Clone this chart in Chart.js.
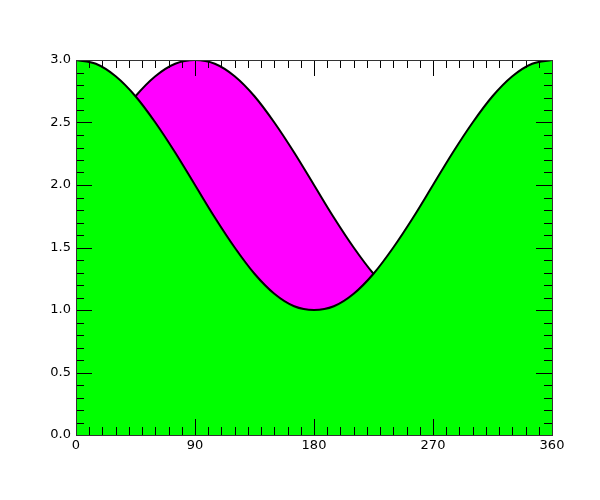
<!DOCTYPE html>
<html>
<head>
<meta charset="utf-8">
<script src="https://cdn.jsdelivr.net/npm/chart.js@4"></script>
<style>
  body { margin: 0; background: #fff; }
</style>
</head>
<body>
<canvas id="grafico" width="600" height="500"></canvas>
<script>
// angulos (graus) e valores
const angulos = [0, 15, 30, 45, 60, 75, 90, 105, 120, 135, 150, 165, 180,
                 195, 210, 225, 240, 255, 270, 285, 300, 315, 330, 345, 360];
const curvaVerde = [3.00, 2.97, 2.87, 2.71, 2.50, 2.26, 2.00, 1.74, 1.50, 1.29, 1.13, 1.03, 1.00,
                    1.03, 1.13, 1.29, 1.50, 1.74, 2.00, 2.26, 2.50, 2.71, 2.87, 2.97, 3.00];
const curvaMagenta = [2.00, 2.26, 2.50, 2.71, 2.87, 2.97, 3.00, 2.97, 2.87, 2.71, 2.50, 2.26, 2.00,
                      1.74, 1.50, 1.29, 1.13, 1.03, 1.00, 1.03, 1.13, 1.29, 1.50, 1.74, 2.00];
const xTicks = [0, 90, 180, 270, 360];
const yTicks = [0.0, 0.5, 1.0, 1.5, 2.0, 2.5, 3.0];

function pontos(ys) {
    return angulos.map((a, i) => ({ x: a, y: ys[i] }));
}

// ticks para dentro nos quatro lados + moldura
const molduraTicks = {
    id: 'molduraTicks',
    afterDraw(chart) {
        const ctx = chart.ctx;
        const a = chart.chartArea;
        const sx = chart.scales.x;
        const sy = chart.scales.y;
        ctx.save();
        ctx.strokeStyle = '#000';
        ctx.lineWidth = 1;
        ctx.beginPath();
        for (let v = 0; v <= 360; v += 10) {
            const px = Math.round(sx.getPixelForValue(v)) + 0.5;
            const len = (v % 90 === 0) ? 16 : 8;
            ctx.moveTo(px, a.bottom); ctx.lineTo(px, a.bottom - len);
            ctx.moveTo(px, a.top); ctx.lineTo(px, a.top + len);
        }
        for (let k = 0; k <= 30; k++) {
            const py = Math.round(sy.getPixelForValue(k / 10)) + 0.5;
            const len = (k % 5 === 0) ? 16 : 8;
            ctx.moveTo(a.left, py); ctx.lineTo(a.left + len, py);
            ctx.moveTo(a.right, py); ctx.lineTo(a.right - len, py);
        }
        ctx.stroke();
        ctx.strokeStyle = '#333';
        ctx.strokeRect(Math.round(a.left) + 0.5, Math.round(a.top) + 0.5,
                       Math.round(a.right - a.left), Math.round(a.bottom - a.top));
        ctx.restore();
    }
};

const grafico = document.querySelector('#grafico');
new Chart(grafico, {
    type: 'line',
    data: {
        datasets: [{
            label: 'verde',
            data: pontos(curvaVerde),
            borderColor: '#000',
            borderWidth: 2,
            backgroundColor: '#00ff00',
            fill: 'origin',
            pointRadius: 0,
            cubicInterpolationMode: 'monotone'
        }, {
            label: 'magenta',
            data: pontos(curvaMagenta),
            borderColor: '#000',
            borderWidth: 2,
            fill: { target: 0, above: '#ff00ff', below: 'rgba(0,0,0,0)' },
            pointRadius: 0,
            cubicInterpolationMode: 'monotone'
        }]
    },
    options: {
        responsive: false,
        animation: false,
        maintainAspectRatio: false,
        layout: { padding: { top: 60, right: 48, left: 0, bottom: 0 } },
        plugins: {
            legend: { display: false },
            tooltip: { enabled: false }
        },
        scales: {
            x: {
                type: 'linear',
                min: 0,
                max: 360,
                afterBuildTicks: s => { s.ticks = xTicks.map(v => ({ value: v })); },
                afterFit: s => { s.height = 65; },
                grid: { display: false, drawTicks: false },
                border: { display: false },
                ticks: {
                    color: '#000',
                    padding: 3,
                    maxRotation: 0,
                    font: { family: 'DejaVu Sans', size: 13 }
                }
            },
            y: {
                min: 0,
                max: 3,
                afterBuildTicks: s => { s.ticks = yTicks.map(v => ({ value: v })); },
                afterFit: s => { s.width = 76; },
                grid: { display: false, drawTicks: false },
                border: { display: false },
                ticks: {
                    color: '#000',
                    padding: 5,
                    callback: v => Number(v).toFixed(1),
                    font: { family: 'DejaVu Sans', size: 13 }
                }
            }
        }
    },
    plugins: [molduraTicks]
});
</script>
</body>
</html>
